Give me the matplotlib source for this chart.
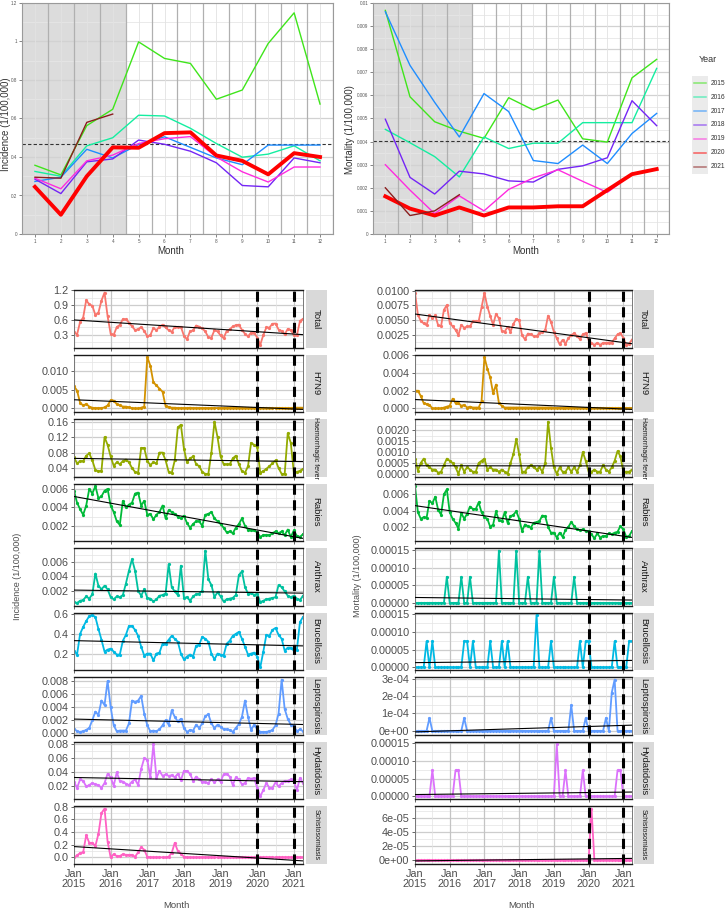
import numpy as np
import matplotlib
matplotlib.use("Agg")
import matplotlib.pyplot as plt
from matplotlib.lines import Line2D
from matplotlib.patches import Rectangle

plt.rcParams['font.family'] = ['Liberation Sans', 'DejaVu Sans']

# ------------------------------------------------------------------ data
months = list(range(1, 13))
years = ['2015', '2016', '2017', '2018', '2019', '2020', '2021']
year_colors = ['#3fe51b', '#14eea0', '#1f8dff', '#7425f5', '#ff2bdf', '#ff0000', '#8b1e1e']

inc_2015 = [0.357, 0.307, 0.563, 0.648, 0.998, 0.912, 0.886, 0.700, 0.748, 0.990, 1.149, 0.675]
inc_2016 = [0.325, 0.300, 0.458, 0.500, 0.617, 0.613, 0.549, 0.470, 0.399, 0.415, 0.458, 0.380]
inc_2017 = [0.273, 0.295, 0.440, 0.395, 0.465, 0.505, 0.450, 0.395, 0.360, 0.462, 0.462, 0.462]
inc_2018 = [0.285, 0.210, 0.375, 0.390, 0.488, 0.466, 0.430, 0.370, 0.252, 0.245, 0.395, 0.370]
inc_2019 = [0.290, 0.235, 0.380, 0.410, 0.470, 0.495, 0.506, 0.400, 0.323, 0.270, 0.348, 0.348]
inc_2020 = [0.245, 0.100, 0.300, 0.450, 0.448, 0.524, 0.528, 0.408, 0.380, 0.310, 0.420, 0.400]
inc_2021 = [0.295, 0.290, 0.580, 0.623]

mort_2015 = [0.00968, 0.00594, 0.00486, 0.00445, 0.00414, 0.00590, 0.00537, 0.00580, 0.00412, 0.00398, 0.00676, 0.00756]
mort_2016 = [0.00453, 0.00395, 0.00335, 0.00247, 0.00420, 0.00370, 0.00393, 0.00393, 0.00482, 0.00482, 0.00482, 0.00717]
mort_2017 = [0.00962, 0.00730, 0.00570, 0.00420, 0.00608, 0.00530, 0.00318, 0.00305, 0.00385, 0.00305, 0.00435, 0.00522]
mort_2018 = [0.00497, 0.00245, 0.00173, 0.00272, 0.00260, 0.00230, 0.00225, 0.00280, 0.00295, 0.00330, 0.00577, 0.00469]
mort_2019 = [0.00300, 0.00190, 0.00088, 0.00165, 0.00100, 0.00193, 0.00243, 0.00278, 0.00228, 0.00180, 0.00259, 0.00280]
mort_2020 = [0.00163, 0.00110, 0.00080, 0.00115, 0.00080, 0.00115, 0.00115, 0.00120, 0.00120, 0.00190, 0.00259, 0.00281]
mort_2021 = [0.00200, 0.00080, 0.00100, 0.00170]

inc_ref = 0.467
mort_ref = 0.00403

inc_years = [inc_2015, inc_2016, inc_2017, inc_2018, inc_2019, inc_2020, inc_2021]
mort_years = [mort_2015, mort_2016, mort_2017, mort_2018, mort_2019, mort_2020, mort_2021]

inc_total = sum(inc_years, [])
mort_total = sum(mort_years, [])

inc_h7n9 = [0.0060, 0.0048, 0.0015, 0.0008, 0.0012, 0.0005, 0.0002, 0.0001, 0.0001, 0.0001, 0.0003, 0.0008,
            0.0022, 0.0021, 0.0012, 0.0008, 0.0005, 0.0005, 0.0003, 0.0001, 0.0000, 0.0000, 0.0002, 0.0005,
            0.0138, 0.0115, 0.0070, 0.0062, 0.0053, 0.0045, 0.0006, 0.0004, 0.0002, 0.0002, 0.0001, 0.0001,
            0.0001, 0.0001, 0.0002, 0.0001, 0.0001, 0.0001, 0.0001, 0.0001, 0.0001, 0.0001, 0.0001, 0.0001,
            0.0001, 0.0001, 0.0001, 0.0001, 0.0001, 0.0001, 0.0001, 0.0001, 0.0001, 0.0001, 0.0001, 0.0001,
            0.0001, 0.0001, 0.0001, 0.0001, 0.0001, 0.0001, 0.0001, 0.0001, 0.0001, 0.0001, 0.0001, 0.0001,
            0.0002, 0.0002, 0.0002, 0.0002]
mort_h7n9 = [0.0020, 0.0020, 0.0014, 0.0006, 0.0005, 0.0004, 0.0000, 0.0000, 0.0000, 0.0000, 0.0001, 0.0002,
             0.0003, 0.0011, 0.0006, 0.0006, 0.0003, 0.0004, 0.0001, 0.0002, 0.0001, 0.0001, 0.0001, 0.0008,
             0.0058, 0.0045, 0.0035, 0.0017, 0.0027, 0.0006, 0.0003, 0.0001, 0.0001, 0.0001, 0.0001, 0.0001,
             0.0001, 0.0001, 0.0001, 0.0001, 0.0001, 0.0001, 0.0001, 0.0001, 0.0001, 0.0001, 0.0001, 0.0001,
             0.00005, 0.00005, 0.00005, 0.00005, 0.00005, 0.00005, 0.00005, 0.00005, 0.00005, 0.00005, 0.00005, 0.00005,
             0.00005, 0.00005, 0.00005, 0.00005, 0.00005, 0.00005, 0.00005, 0.00005, 0.00005, 0.00005, 0.00005, 0.00005,
             0.00005, 0.00005, 0.00005, 0.00005]

inc_hf = [0.068, 0.052, 0.058, 0.058, 0.072, 0.078, 0.060, 0.035, 0.032, 0.033, 0.120, 0.100,
          0.070, 0.046, 0.055, 0.050, 0.058, 0.062, 0.055, 0.040, 0.030, 0.028, 0.092, 0.092,
          0.058, 0.048, 0.055, 0.052, 0.080, 0.080, 0.060, 0.030, 0.027, 0.060, 0.145, 0.152,
          0.090, 0.055, 0.065, 0.070, 0.050, 0.045, 0.030, 0.025, 0.025, 0.080, 0.160, 0.120,
          0.070, 0.050, 0.050, 0.050, 0.065, 0.072, 0.050, 0.032, 0.028, 0.045, 0.105, 0.100,
          0.095, 0.028, 0.032, 0.038, 0.045, 0.052, 0.060, 0.040, 0.025, 0.025, 0.130, 0.105,
          0.028, 0.030, 0.033, 0.038]
mort_hf = [0.0007, 0.00015, 0.0005, 0.0007, 0.0004, 0.0003, 0.0002, 0.0002, 0.00005, 0.0001, 0.0004, 0.0007,
           0.0006, 0.0005, 0.0003, 0.0000, 0.0004, 0.0001, 0.0003, 0.0002, 0.0001, 0.0001, 0.0005, 0.0006,
           0.0007, 0.0002, 0.0003, 0.0002, 0.0002, 0.0001, 0.0002, 0.0001, 0.0000, 0.0005, 0.0009, 0.0016,
           0.0009, 0.0001, 0.0001, 0.0003, 0.0004, 0.0003, 0.0002, 0.0003, 0.0001, 0.0005, 0.0024, 0.0012,
           0.0003, 0.0000, 0.0003, 0.0001, 0.0001, 0.0003, 0.0001, 0.0003, 0.0001, 0.0004, 0.0010, 0.0006,
           0.0001, 0.0001, 0.0002, 0.0001, 0.0001, 0.0004, 0.0002, 0.0001, 0.0003, 0.0006, 0.00105, 0.0008,
           0.0001, 0.0001, 0.0001, 0.0002]

inc_rabies = [0.0058, 0.0045, 0.0038, 0.0032, 0.0042, 0.0060, 0.0055, 0.0063, 0.0050, 0.0052, 0.0058, 0.0060,
              0.0042, 0.0035, 0.0025, 0.0021, 0.0047, 0.0040, 0.0043, 0.0045, 0.0055, 0.0056, 0.0042, 0.0047,
              0.0032, 0.0033, 0.0027, 0.0032, 0.0035, 0.0042, 0.0028, 0.0037, 0.0035, 0.0033, 0.0030, 0.0028,
              0.0031, 0.0023, 0.0018, 0.0022, 0.0025, 0.0025, 0.0020, 0.0032, 0.0033, 0.0035, 0.0028, 0.0025,
              0.0022, 0.0018, 0.0013, 0.0014, 0.0012, 0.0018, 0.0022, 0.0028, 0.0020, 0.0016, 0.0015, 0.0015,
              0.0013, 0.0008, 0.0010, 0.0010, 0.0010, 0.0012, 0.0014, 0.0012, 0.0014, 0.0010, 0.0016, 0.0008,
              0.0015, 0.0009, 0.0008, 0.0011]
mort_rabies = [0.0070, 0.0038, 0.0030, 0.0032, 0.0031, 0.0052, 0.0049, 0.0057, 0.0041, 0.0035, 0.0060, 0.0066,
               0.0038, 0.0030, 0.0025, 0.0018, 0.0037, 0.0030, 0.0036, 0.0045, 0.0042, 0.0042, 0.0050, 0.0038,
               0.0032, 0.0030, 0.0020, 0.0023, 0.0039, 0.0028, 0.0027, 0.0038, 0.0025, 0.0033, 0.0035, 0.0039,
               0.0030, 0.0015, 0.0023, 0.0021, 0.0019, 0.0025, 0.0026, 0.0027, 0.0034, 0.0033, 0.0020, 0.0013,
               0.0013, 0.0007, 0.0013, 0.0008, 0.0016, 0.0020, 0.0026, 0.0021, 0.0017, 0.0016, 0.0017, 0.0015,
               0.0015, 0.0011, 0.0006, 0.0012, 0.0007, 0.0009, 0.0009, 0.0012, 0.0011, 0.0013, 0.0014, 0.0021,
               0.0017, 0.0008, 0.0009, 0.0015]

inc_anthrax = [0.0004, 0.0003, 0.0006, 0.0007, 0.0012, 0.0009, 0.0015, 0.0044, 0.0027, 0.0022, 0.0027, 0.0022,
               0.0011, 0.0008, 0.0012, 0.0011, 0.0014, 0.0030, 0.0048, 0.0064, 0.0048, 0.0020, 0.0013, 0.0022,
               0.0010, 0.0009, 0.0005, 0.0008, 0.0013, 0.0014, 0.0016, 0.0057, 0.0025, 0.0019, 0.0014, 0.0055,
               0.0010, 0.0011, 0.0006, 0.0012, 0.0015, 0.0016, 0.0020, 0.0076, 0.0036, 0.0028, 0.0011, 0.0018,
               0.0012, 0.0005, 0.0008, 0.0009, 0.0010, 0.0014, 0.0042, 0.0047, 0.0025, 0.0016, 0.0017, 0.0014,
               0.0016, 0.0004, 0.0006, 0.0008, 0.0009, 0.0010, 0.0011, 0.0028, 0.0025, 0.0019, 0.0013, 0.0011,
               0.0013, 0.0009, 0.0007, 0.0013]
mort_anthrax = [0, 0, 0, 0, 0, 0, 0, 0, 0, 0, 0, 7.4e-5,
                0, 0, 0, 0, 7.4e-5, 0, 0, 7.4e-5, 0, 0, 0, 0,
                0, 0, 0, 0, 0, 1.48e-4, 0, 0, 0, 0, 0, 1.48e-4,
                0, 0, 0, 7.4e-5, 0, 0, 0, 1.48e-4, 0, 0, 0, 0,
                7.4e-5, 0, 0, 0, 0, 0, 0, 7.4e-5, 0, 0, 0, 0,
                0, 0, 0, 0, 0, 0, 0, 0, 0, 0, 0, 0,
                0, 0, 0, 0]

inc_brucellosis = [0.23, 0.19, 0.40, 0.47, 0.53, 0.58, 0.59, 0.57, 0.45, 0.34, 0.22, 0.24,
                   0.25, 0.22, 0.19, 0.19, 0.33, 0.39, 0.48, 0.48, 0.44, 0.38, 0.27, 0.18,
                   0.20, 0.20, 0.13, 0.20, 0.21, 0.30, 0.30, 0.34, 0.38, 0.35, 0.32, 0.20,
                   0.14, 0.17, 0.19, 0.17, 0.28, 0.29, 0.37, 0.35, 0.32, 0.20, 0.14, 0.20,
                   0.19, 0.18, 0.30, 0.33, 0.38, 0.40, 0.42, 0.35, 0.27, 0.19, 0.20, 0.21,
                   0.17, 0.06, 0.22, 0.39, 0.38, 0.44, 0.46, 0.39, 0.35, 0.23, 0.26, 0.26,
                   0.23, 0.24, 0.52, 0.57]
mort_brucellosis = [0, 0, 0, 0, 7.4e-5, 0, 7.4e-5, 0, 0, 0, 0, 0,
                    0, 0, 0, 0, 0, 7.4e-5, 7.4e-5, 0, 7.4e-5, 0, 0, 0,
                    0, 0, 7.4e-5, 0, 0, 0, 7.4e-5, 0, 7.4e-5, 0, 0, 0,
                    0, 0, 0, 0, 0, 0, 1.48e-4, 0, 0, 0, 0, 7.4e-5,
                    0, 0, 0, 0, 0, 0, 0, 0, 0, 7.4e-5, 0, 7.4e-5,
                    7.4e-5, 0, 0, 0, 0, 0, 0, 0, 0, 7.4e-5, 0, 0,
                    0, 0, 7.4e-5, 7.4e-5]

inc_lepto = [0.0007, 0.0003, 0.0002, 0.0003, 0.0005, 0.0008, 0.0020, 0.0033, 0.0028, 0.0050, 0.0043, 0.0080,
             0.0040, 0.0012, 0.0003, 0.0004, 0.0004, 0.0004, 0.0015, 0.0050, 0.0048, 0.0050, 0.0057, 0.0030,
             0.0012, 0.0003, 0.0004, 0.0003, 0.0006, 0.0012, 0.0020, 0.0013, 0.0035, 0.0025, 0.0018, 0.0022,
             0.0008, 0.0002, 0.0005, 0.0004, 0.0013, 0.0008, 0.0015, 0.0026, 0.0029, 0.0015, 0.0008, 0.0013,
             0.0010, 0.0006, 0.0006, 0.0005, 0.0002, 0.0008, 0.0014, 0.0025, 0.0050, 0.0025, 0.0005, 0.0013,
             0.0006, 0.0002, 0.0002, 0.0002, 0.0003, 0.0005, 0.0012, 0.0030, 0.0082, 0.0037, 0.0022, 0.0013,
             0.0011, 0.0003, 0.0006, 0.0003]
mort_lepto = [0, 0, 0, 0, 0, 7.4e-5, 0, 0, 0, 0, 0, 0,
              0, 0, 0, 0, 0, 7.4e-5, 0, 0, 0, 0, 0, 0,
              0, 0, 0, 0, 0, 0, 0, 0, 0, 0, 0, 0,
              0, 0, 0, 0, 0, 0, 0, 0, 0, 0, 0, 7.4e-5,
              0, 0, 0, 0, 0, 0, 1.48e-4, 0, 0, 0, 0, 7.4e-5,
              0, 0, 0, 0, 0, 0, 7.4e-5, 0, 2.2e-4, 2.95e-4, 0, 0,
              0, 0, 0, 0]

inc_hydatid = [0.027, 0.018, 0.030, 0.028, 0.020, 0.022, 0.025, 0.023, 0.022, 0.018, 0.025, 0.038,
               0.033, 0.021, 0.040, 0.028, 0.027, 0.024, 0.022, 0.027, 0.030, 0.022, 0.045, 0.060,
               0.058, 0.033, 0.080, 0.032, 0.042, 0.035, 0.037, 0.035, 0.036, 0.033, 0.038, 0.029,
               0.042, 0.042, 0.038, 0.028, 0.034, 0.030, 0.027, 0.026, 0.025, 0.030, 0.026, 0.030,
               0.027, 0.037, 0.038, 0.034, 0.022, 0.033, 0.030, 0.023, 0.025, 0.032, 0.031, 0.032,
               0.018, 0.006, 0.015, 0.025, 0.018, 0.018, 0.026, 0.020, 0.025, 0.028, 0.028, 0.030,
               0.028, 0.015, 0.032, 0.025]
mort_hydatid = [0, 0, 0, 0, 0, 0, 7.4e-5, 0, 0, 0, 0, 0,
                0, 0, 7.4e-5, 7.4e-5, 0, 0, 0, 0, 0, 0, 0, 0,
                0, 0, 0, 0, 0, 0, 0, 0, 0, 0, 0, 0,
                0, 0, 0, 0, 0, 0, 0, 0, 0, 0, 0, 0,
                0, 1.48e-4, 0, 0, 7.4e-5, 0, 0, 0, 0, 0, 7.4e-5, 0,
                0, 0, 0, 0, 0, 0, 0, 0, 0, 0, 7.4e-5, 7.4e-5,
                0, 0, 0, 0]

inc_schisto = [0.00, 0.03, 0.07, 0.08, 0.35, 0.23, 0.23, 0.18, 0.37, 0.70, 0.77, 0.25,
               0.00, 0.05, 0.02, 0.02, 0.05, 0.04, 0.04, 0.04, 0.01, 0.08, 0.16, 0.12,
               0.01, 0.00, 0.00, 0.00, 0.00, 0.00, 0.00, 0.01, 0.07, 0.23, 0.10, 0.06,
               0.01, 0.00, 0.00, 0.00, 0.00, 0.00, 0.00, 0.00, 0.00, 0.00, 0.00, 0.00,
               0.00, 0.00, 0.00, 0.00, 0.00, 0.00, 0.00, 0.00, 0.00, 0.00, 0.00, 0.00,
               0.00, 0.00, 0.00, 0.00, 0.00, 0.00, 0.00, 0.00, 0.00, 0.00, 0.00, 0.00,
               0.00, 0.00, 0.00, 0.00]
mort_schisto = [0, 0, 0, 0, 0, 0, 0, 0, 0, 0, 0, 0,
                0, 0, 0, 0, 0, 0, 0, 0, 0, 0, 0, 0,
                0, 0, 0, 0, 0, 0, 0, 0, 0, 0, 0, 0,
                0, 0, 0, 0, 0, 0, 0, 0, 0, 0, 0, 0,
                0, 0, 0, 0, 0, 0, 0, 0, 0, 0, 0, 0,
                0, 7.35e-5, 0, 0, 0, 0, 0, 0, 0, 0, 0, 0,
                0, 0, 0, 0]

disease_names = ['Total', 'H7N9', 'Haemorrhagic fever', 'Rabies', 'Anthrax',
                 'Brucellosis', 'Leptospirosis', 'Hydatidosis', 'Schistosomiasis']
small_strip_names = ['Haemorrhagic fever', 'Schistosomiasis']
disease_colors = ['#F8766D', '#D39200', '#93AA00', '#00BA38', '#00C19F',
                  '#00B9E3', '#619CFF', '#DB72FB', '#FF61C3']
inc_series = [inc_total, inc_h7n9, inc_hf, inc_rabies, inc_anthrax,
              inc_brucellosis, inc_lepto, inc_hydatid, inc_schisto]
mort_series = [mort_total, mort_h7n9, mort_hf, mort_rabies, mort_anthrax,
               mort_brucellosis, mort_lepto, mort_hydatid, mort_schisto]

inc_ticks = [[0.3, 0.6, 0.9, 1.2], [0.0, 0.005, 0.010], [0.04, 0.08, 0.12, 0.16],
             [0.002, 0.004, 0.006], [0.002, 0.004, 0.006], [0.2, 0.4, 0.6],
             [0.0, 0.002, 0.004, 0.006, 0.008], [0.02, 0.04, 0.06, 0.08], [0.0, 0.2, 0.4, 0.6, 0.8]]
inc_fmt = ['%.1f', '%.3f', '%.2f', '%.3f', '%.3f', '%.1f', '%.3f', '%.2f', '%.1f']
mort_ticks = [[0.0025, 0.005, 0.0075, 0.01], [0.0, 0.002, 0.004, 0.006],
              [0.0, 0.0005, 0.001, 0.0015, 0.002], [0.002, 0.004, 0.006],
              [0.0, 5e-5, 1e-4, 1.5e-4], [0.0, 5e-5, 1e-4, 1.5e-4],
              [0.0, 1e-4, 2e-4, 3e-4], [0.0, 5e-5, 1e-4, 1.5e-4], [0.0, 2e-5, 4e-5, 6e-5]]
mort_fmt = ['%.4f', '%.3f', '%.4f', '%.3f', '%.5f', '%.5f', '%.0e', '%.5f', '%.0e']

xtick_pos = [0, 12, 24, 36, 48, 60, 72]
xtick_labels = ['Jan\n2015', 'Jan\n2016', 'Jan\n2017', 'Jan\n2018', 'Jan\n2019', 'Jan\n2020', 'Jan\n2021']
break_months = [60, 72]

inc_top_ticks = [0, 0.2, 0.4, 0.6, 0.8, 1.0, 1.2]
inc_top_labels = ['0', '0.2', '0.4', '0.6', '0.8', '1', '1.2']
mort_top_ticks = [0, 0.001, 0.002, 0.003, 0.004, 0.005, 0.006, 0.007, 0.008, 0.009, 0.01]
mort_top_labels = ['0', '0.001', '0.002', '0.003', '0.004', '0.005', '0.006', '0.007', '0.008', '0.009', '0.01']

# ------------------------------------------------------------------ figure
W, H = 727, 916
fig = plt.figure(figsize=(W / 100, H / 100), dpi=100)
fig.patch.set_facecolor('white')


def fx(x):
    return x / W


def fy(y):
    return 1 - y / H


def axes_px(x0, y0, x1, y1):
    return fig.add_axes([x0 / W, 1 - y1 / H, (x1 - x0) / W, (y1 - y0) / H])


def top_panel(rect, series, ylim, ticks, labels, ref):
    ax = axes_px(*rect)
    ax.set_xlim(0.5, 12.5)
    ax.set_ylim(*ylim)
    ax.axvspan(0.5, 4.5, color='#dcdcdc', lw=0, zorder=0)
    step = ticks[1] - ticks[0]
    for t in ticks:
        ax.axhline(t, color='#d2d2d2', lw=0.9, zorder=0.5)
    for t in ticks[:-1]:
        ax.axhline(t + step / 2, color='#e6e6e6', lw=0.6, zorder=0.5)
    for m in months:
        ax.axvline(m, color='#e2e2e2', lw=0.6, zorder=0.5)
        ax.axvline(m + 0.5, color='#b0b0b0', lw=0.9, zorder=0.5)
    ax.axhline(ref, color='#333333', lw=0.8, ls=(0, (3, 2)), zorder=1)
    for i, vals in enumerate(series):
        lw = 2.8 if years[i] == '2020' else 1.0
        ax.plot(months[:len(vals)], vals, color=year_colors[i], lw=lw, zorder=2 + i)
    ax.set_xticks(months)
    ax.set_xticklabels([str(m) for m in months])
    ax.set_yticks(ticks)
    ax.set_yticklabels(labels)
    ax.tick_params(labelsize=3.3, colors='#555555', length=2, width=0.5, pad=1.5)
    for s in ax.spines.values():
        s.set_color('#9a9a9a')
        s.set_linewidth(0.8)
    return ax


top_panel((22, 3, 333, 234), inc_years, (0, 1.2), inc_top_ticks, inc_top_labels, inc_ref)
top_panel((373, 3, 669, 234), mort_years, (0, 0.01), mort_top_ticks, mort_top_labels, mort_ref)

fig.text(fx(6), fy(124), 'Incidence (1/100,000)', rotation=90, fontsize=7, color='#333333',
         ha='center', va='center')
fig.text(fx(350), fy(130), 'Mortality (1/100,000)', rotation=90, fontsize=7, color='#333333',
         ha='center', va='center')
fig.text(fx(171), fy(251), 'Month', fontsize=7, color='#333333', ha='center', va='center')
fig.text(fx(526), fy(251), 'Month', fontsize=7, color='#333333', ha='center', va='center')

# legend
fig.text(fx(699), fy(60), 'Year', fontsize=6.5, color='#333333', ha='left', va='center')
fig.add_artist(Rectangle((fx(692), fy(174)), 16 / W, 98 / H, transform=fig.transFigure,
                         facecolor='#ebebeb', edgecolor='none'))
for i, yr in enumerate(years):
    yy = 83.3 + 13.9 * i
    fig.add_artist(Line2D([fx(694), fx(706)], [fy(yy), fy(yy)], transform=fig.transFigure,
                          color=year_colors[i], lw=1.1, alpha=0.6))
    fig.text(fx(711), fy(yy), yr, fontsize=4.8, color='#333333', ha='left', va='center')

# ------------------------------------------------------------------ facet panels
panel_tops = [290 + 64.5 * k for k in range(9)]
panel_h = 57.5


def facet_column(x0, x1, strip_x0, strip_x1, series_list, ticks_list, fmt_list):
    n = len(series_list)
    for k in range(n):
        vals = np.array(series_list[k], dtype=float)
        x = np.arange(len(vals))
        coef = np.polyfit(x, vals, 1)
        xt = np.array([0, 75])
        trend = np.polyval(coef, xt)
        lo = min(vals.min(), trend.min())
        hi = max(vals.max(), trend.max())
        r = hi - lo
        ylim = (lo - 0.05 * r, hi + 0.05 * r)

        top = panel_tops[k]
        ax = axes_px(x0, top, x1, top + panel_h)
        ax.set_xlim(0, 75)
        ax.set_ylim(*ylim)

        ticks = ticks_list[k]
        step = ticks[1] - ticks[0]
        minors = [t + step / 2 for t in ticks[:-1]] + [ticks[0] - step / 2, ticks[-1] + step / 2]
        for t in minors:
            if ylim[0] < t < ylim[1]:
                ax.axhline(t, color='#e3e3e3', lw=0.5, zorder=0)
        for t in ticks:
            ax.axhline(t, color='#cdcdcd', lw=0.9, zorder=0)
        for xm in range(6, 75, 12):
            ax.axvline(xm, color='#e3e3e3', lw=0.5, zorder=0)
        for xm in xtick_pos:
            ax.axvline(xm, color='#c4c4c4', lw=0.9, zorder=0)

        ax.plot(x, vals, color=disease_colors[k], lw=1.3, marker='o', ms=1.3, zorder=2)
        ax.plot(xt, trend, color='black', lw=0.8, zorder=3)
        for bm in break_months:
            ax.axvline(bm, color='black', lw=2.2, ls=(0, (3.3, 1.8)), zorder=4)

        ax.set_yticks(ticks)
        ax.set_yticklabels([fmt_list[k] % t for t in ticks])
        ax.set_xticks(xtick_pos)
        if k == n - 1:
            ax.set_xticklabels(xtick_labels, linespacing=1.0)
        else:
            ax.set_xticklabels([])
            ax.tick_params(axis='x', length=0)
        ax.tick_params(labelsize=7.8, colors='#4d4d4d', length=2.5, width=0.6, pad=1.5)
        for side, s in ax.spines.items():
            if side in ('top', 'bottom'):
                s.set_color('#1a1a1a')
                s.set_linewidth(1.0)
            else:
                s.set_color('#777777')
                s.set_linewidth(0.7)

        # strip
        fig.add_artist(Rectangle((fx(strip_x0), fy(top + panel_h)), (strip_x1 - strip_x0) / W,
                                 panel_h / H, transform=fig.transFigure,
                                 facecolor='#d9d9d9', edgecolor='none'))
        name = disease_names[k]
        fs = 5.0 if name in small_strip_names else 6.8
        fig.text(fx((strip_x0 + strip_x1) / 2), fy(top + panel_h / 2), name, rotation=-90,
                 fontsize=fs, color='#1a1a1a', ha='center', va='center')


facet_column(74, 303, 305.5, 326.5, inc_series, inc_ticks, inc_fmt)
facet_column(415, 632, 633.5, 653.5, mort_series, mort_ticks, mort_fmt)

fig.text(fx(18), fy(576), 'Incidence (1/100,000)', rotation=90, fontsize=6.5, color='#4d4d4d',
         ha='center', va='center')
fig.text(fx(358), fy(576), 'Mortality (1/100,000)', rotation=90, fontsize=6.5, color='#4d4d4d',
         ha='center', va='center')
fig.text(fx(176), fy(905), 'Month', fontsize=6.8, color='#4d4d4d', ha='center', va='center')
fig.text(fx(521), fy(906), 'Month', fontsize=6.8, color='#4d4d4d', ha='center', va='center')

fig.savefig('out.png', dpi=100, facecolor='white')
